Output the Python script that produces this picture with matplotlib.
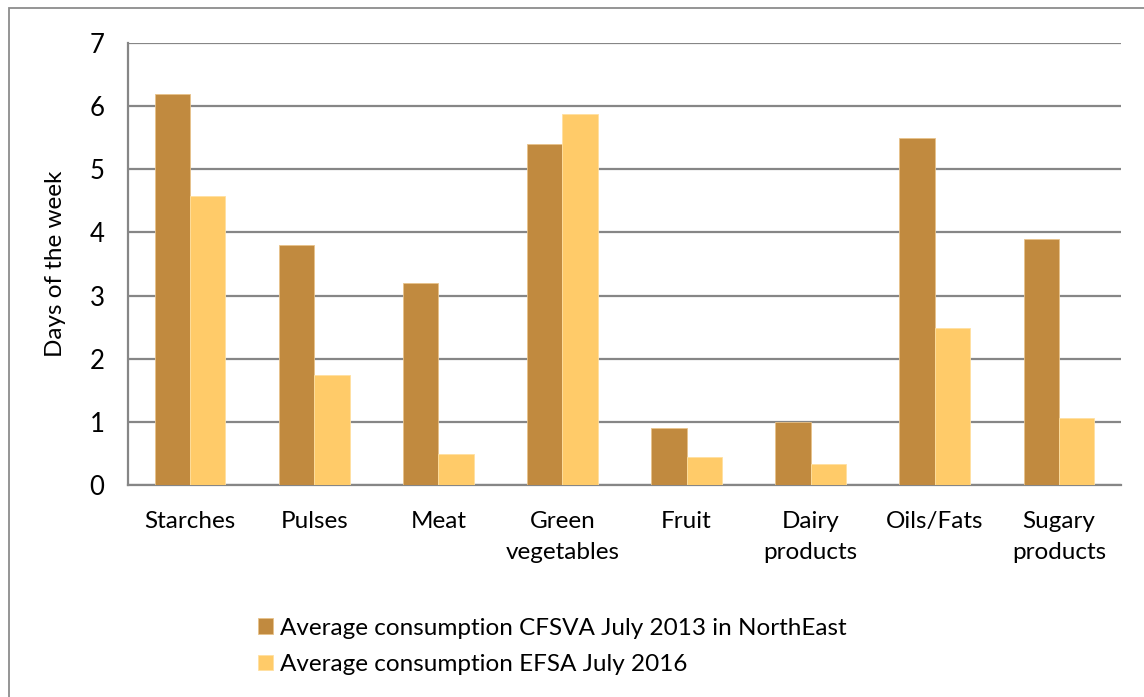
import matplotlib.pyplot as plt
import numpy as np
from matplotlib.patches import Rectangle

categories = ["Starches", "Pulses", "Meat", "Green\nvegetables", "Fruit",
              "Dairy\nproducts", "Oils/Fats", "Sugary\nproducts"]
cfsva_2013 = [6.2, 3.8, 3.2, 5.4, 0.9, 1.0, 5.5, 3.9]
efsa_2016 = [4.57, 1.74, 0.49, 5.87, 0.45, 0.33, 2.48, 1.06]
series_labels = ["Average consumption CFSVA July 2013 in NorthEast",
                 "Average consumption EFSA July 2016"]
yticks = [0, 1, 2, 3, 4, 5, 6, 7]

dark = "#C18A3F"
light = "#FFCB69"
grid_col = "#868686"
fs = 17.5

plt.rcParams['font.family'] = ['Lato', 'DejaVu Sans']

W, H = 1144, 697
fig = plt.figure(figsize=(W / 100, H / 100), dpi=100)

# outer chart frame
fig.patches.append(Rectangle((9 / W, -0.01), 1.02, 1 - 8 / H + 0.01,
                             transform=fig.transFigure, fill=False,
                             edgecolor="#8c8c8c", linewidth=1.3))

ax = fig.add_axes([128 / W, 1 - 485 / H, (1121 - 128) / W, (485 - 43) / H])
x = np.arange(len(categories))
bw = 0.285
ax.bar(x - bw / 2, cfsva_2013, bw, color=dark, edgecolor="#E8C28A",
       linewidth=0.6, label=series_labels[0], zorder=3)
ax.bar(x + bw / 2, efsa_2016, bw, color=light, edgecolor="#FFE0A0",
       linewidth=0.6, label=series_labels[1], zorder=3)

ax.set_xlim(-0.5, len(categories) - 0.5)
ax.set_ylim(0, 7)
ax.set_yticks(yticks)
ax.set_yticklabels([str(t) for t in yticks], fontsize=fs + 1)
ax.set_xticks(x)
ax.set_xticklabels(categories, fontsize=fs, linespacing=1.58)
ax.tick_params(axis='x', length=0, pad=19)
ax.tick_params(axis='y', length=0, pad=17)
ax.yaxis.grid(True, color=grid_col, linewidth=1.6, zorder=0)
for s in ["top", "right"]:
    ax.spines[s].set_visible(False)
ax.spines["left"].set_color(grid_col)
ax.spines["left"].set_linewidth(1.6)
ax.spines["bottom"].set_color(grid_col)
ax.spines["bottom"].set_linewidth(1.6)
ax.set_ylabel("Days of the week", fontsize=fs, labelpad=17)

leg = fig.legend(loc="upper left", bbox_to_anchor=(236 / W, 1 - 596 / H),
                 frameon=False, fontsize=fs, handlelength=0.62,
                 handleheight=0.62, handletextpad=0.3, labelspacing=0.62)

fig.savefig("out.png", dpi=100, facecolor="white")
